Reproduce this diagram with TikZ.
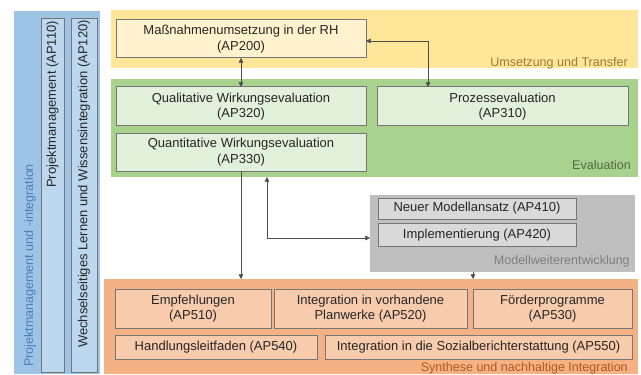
\documentclass[tikz,border=0pt]{standalone}
\usepackage{fontspec}
\setmainfont{Liberation Sans}
\usetikzlibrary{arrows.meta,calc}
\definecolor{bluePanel}{HTML}{9DC3E6}
\definecolor{blueBox}{HTML}{BDD7EE}
\definecolor{blueText}{HTML}{4A7EBB}
\definecolor{yellowPanel}{HTML}{FFE699}
\definecolor{yellowBox}{HTML}{FFF2CC}
\definecolor{yellowText}{HTML}{9E7B2E}
\definecolor{greenPanel}{HTML}{A9D18E}
\definecolor{greenBox}{HTML}{E2EFDA}
\definecolor{greenText}{HTML}{4E6B42}
\definecolor{grayPanel}{HTML}{BFBFBF}
\definecolor{grayBox}{HTML}{D9D9D9}
\definecolor{grayText}{HTML}{7F7F7F}
\definecolor{orangePanel}{HTML}{F4B183}
\definecolor{orangeBox}{HTML}{F8CBAD}
\definecolor{orangeText}{HTML}{B4581E}
\definecolor{boxBorder}{HTML}{767676}
\definecolor{arrowCol}{HTML}{4D4D4D}
\definecolor{txtCol}{HTML}{262626}
\newcommand\pbox[7]{\node[#1, minimum width={(#5-#3)*0.75pt}, minimum height={(#6-#4)*0.75pt}] (#2) at ({(#3+#5)/2},{(#4+#6)/2}) {#7};}
\begin{document}
\begin{tikzpicture}[x=0.75pt,y=-0.75pt,
  panel/.style={inner sep=0pt, outer sep=0pt, draw=none},
  wbox/.style={inner sep=0pt, outer sep=0pt, draw=boxBorder, line width=0.75pt, align=center, text=txtCol, font=\fontsize{9.75}{11.6}\selectfont},
  plabel/.style={inner sep=0pt, font=\fontsize{9.4}{11}\selectfont},
  arr/.style={draw=arrowCol, line width=0.6pt, -{Triangle[length=3.5pt,width=3.5pt]}},
  biarr/.style={draw=arrowCol, line width=0.6pt, {Triangle[length=3.5pt,width=3.5pt]}-{Triangle[length=3.5pt,width=3.5pt]}}]
\useasboundingbox (0,0) rectangle (641,374);
\fill[white] (0,0) rectangle (641,374);
% panels
\pbox{panel, fill=bluePanel}{blue}{14}{11}{100}{374}{}
\pbox{panel, fill=yellowPanel}{yellow}{111}{10}{638}{68}{}
\pbox{panel, fill=greenPanel}{green}{111}{79}{638}{177}{}
\pbox{panel, fill=grayPanel}{gray}{370}{195}{635}{272}{}
\pbox{panel, fill=orangePanel}{orange}{104}{279}{638}{374}{}
% left column
\pbox{wbox, fill=blueBox}{ap110}{41}{19}{64}{372}{}
\pbox{wbox, fill=blueBox}{ap120}{71}{19}{97}{372}{}
\node[wbox, draw=none, rotate=90, anchor=east] (t110) at (52.5,21) {Projektmanagement (AP110)};
\node[wbox, draw=none, rotate=90, anchor=east] (t120) at (84,20) {Wechselseitiges Lernen und Wissensintegration (AP120)};
\node[plabel, text=blueText, rotate=90, anchor=west] (lblue) at (30,367) {Projektmanagement und -integration};
% yellow
\pbox{wbox, fill=yellowBox}{ap200}{116}{20}{366}{58}{Maßnahmenumsetzung in der RH\\(AP200)}
\node[plabel, text=yellowText, anchor=east] (lyellow) at (628,63) {Umsetzung und Transfer};
% green
\pbox{wbox, fill=greenBox}{ap320}{116}{87}{366}{126}{Qualitative Wirkungsevaluation\\(AP320)}
\pbox{wbox, fill=greenBox}{ap330}{116}{133}{366}{171}{Quantitative Wirkungsevaluation\\(AP330)}
\pbox{wbox, fill=greenBox}{ap310}{377}{87}{628}{126}{Prozessevaluation\\(AP310)}
\node[plabel, text=greenText, anchor=east] (lgreen) at (631,165) {Evaluation};
% gray
\pbox{wbox, fill=grayBox}{ap410}{378}{198}{576}{219}{Neuer Modellansatz (AP410)}
\pbox{wbox, fill=grayBox}{ap420}{378}{223.5}{576}{246}{Implementierung (AP420)}
\node[plabel, text=grayText, anchor=east] (lgray) at (630,261) {Modellweiterentwicklung};
% orange
\pbox{wbox, fill=orangeBox}{ap510}{115}{289}{271}{328}{Empfehlungen\\(AP510)}
\pbox{wbox, fill=orangeBox}{ap520}{274}{289}{467}{328}{Integration in vorhandene\\Planwerke (AP520)}
\pbox{wbox, fill=orangeBox}{ap530}{473}{289}{632}{328}{Förderprogramme\\(AP530)}
\pbox{wbox, fill=orangeBox}{ap540}{115}{335.5}{317}{359}{Handlungsleitfaden (AP540)}
\pbox{wbox, fill=orangeBox}{ap550}{325}{335.5}{632}{359}{Integration in die Sozialberichterstattung (AP550)}
\node[plabel, text=orangeText, anchor=east] (lorange) at (628,368) {Synthese und nachhaltige Integration};
% connectors
\coordinate (c1) at (428,41);
\coordinate (c2) at (267,238);
\coordinate (c3) at (473,0);
\draw[biarr] (ap200.south) -- (ap320.north);
\draw[biarr] (ap200.east |- c1) -- (c1) -- (c1 |- ap310.north);
\draw[arr] (ap330.south) -- (ap330.south |- orange.north);
\draw[biarr] (c2 |- green.south) -- (c2) -- (c2 -| gray.west);
\draw[arr] (c3 |- gray.south) -- (c3 |- orange.north);
\end{tikzpicture}
\end{document}
